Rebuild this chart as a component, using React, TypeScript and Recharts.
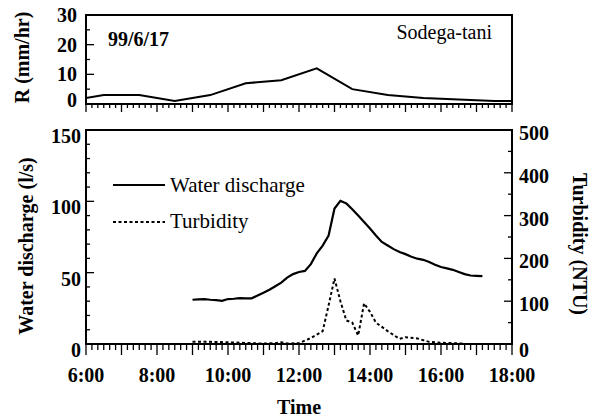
import React from "react";
import {
  LineChart,
  Line,
  XAxis,
  YAxis,
  ReferenceArea,
  Legend,
  Label,
} from "recharts";

const FONT = "'Liberation Serif', 'Times New Roman', serif";

// x axis: hours of the day
const hourTicks = [6, 7, 8, 9, 10, 11, 12, 13, 14, 15, 16, 17, 18];
const labelHours = [6, 8, 10, 12, 14, 16, 18];
const timeLabels = ["6:00", "8:00", "10:00", "12:00", "14:00", "16:00", "18:00"];

const rainTicks = [0, 5, 10, 15, 20, 25, 30];
const dischargeTicks = [0, 10, 20, 30, 40, 50, 60, 70, 80, 90, 100, 110, 120, 130, 140, 150];
const turbidityTicks = [0, 50, 100, 150, 200, 250, 300, 350, 400, 450, 500];

// rainfall, top panel
const rainTimes = ["6:00", "6:30", "7:30", "8:30", "9:30", "10:30", "11:30", "12:30", "13:30", "14:30", "15:30", "16:30", "17:30", "18:00"];
const rainValues = [2, 3, 3, 1, 3, 7, 8, 12, 5, 3, 2, 1.5, 1, 1];

// water discharge (l/s)
const dischargeTimes = [
  "9:00", "9:10", "9:20", "9:30", "9:40", "9:50", "10:00", "10:10", "10:20", "10:30",
  "10:40", "10:50", "11:00", "11:10", "11:20", "11:30", "11:40", "11:50", "12:00", "12:10",
  "12:20", "12:30", "12:40", "12:50", "13:00", "13:10", "13:20", "13:30", "13:40", "13:50",
  "14:00", "14:10", "14:20", "14:30", "14:40", "14:50", "15:00", "15:10", "15:20", "15:30",
  "15:40", "15:50", "16:00", "16:10", "16:20", "16:30", "16:40", "16:50", "17:00", "17:10",
];
const dischargeValues = [
  31, 31.3, 31.5, 31, 30.8, 30.3, 31.5, 31.7, 32.2, 32,
  32, 34, 36, 38, 40.5, 43, 46.5, 49, 50.5, 51.2,
  56, 63.5, 69, 76, 95, 100.4, 98.5, 94.5, 90, 85.5,
  81, 76, 71.5, 69, 66.5, 64.5, 63, 61.2, 59.8, 59,
  57.5, 55.5, 54, 53, 52, 50.5, 49, 48, 47.8, 47.6,
];

// turbidity (NTU)
const turbidityTimes = [
  "9:00", "9:30", "10:00", "10:20", "10:40", "11:00", "11:20", "11:30", "11:40", "12:00",
  "12:20", "12:40", "12:50", "13:00", "13:10", "13:20", "13:30", "13:40", "13:50", "14:00",
  "14:10", "14:30", "14:50", "15:00", "15:20", "15:40", "16:00", "16:20", "16:40",
];
const turbidityValues = [
  5, 5, 4, 3, 2, 1, 2, 4, 1, 2,
  14, 30, 90, 153, 100, 55, 50, 20, 95, 75,
  50, 30, 12, 16, 13, 5, 3, 2, 1,
];

const toHours = (s: string) => {
  const [h, m] = s.split(":").map(Number);
  return h + m / 60;
};

const rainData = rainTimes.map((t, i) => ({ t: toHours(t), v: rainValues[i] }));
const dischargeData = dischargeTimes.map((t, i) => ({ t: toHours(t), v: dischargeValues[i] }));
const turbidityData = turbidityTimes.map((t, i) => ({ t: toHours(t), v: turbidityValues[i] }));

// 10 minute minor ticks between the hours
const timeTicks: number[] = [];
hourTicks.forEach((h, i) => {
  timeTicks.push(h);
  if (i < hourTicks.length - 1) {
    for (let k = 1; k < 6; k++) timeTicks.push(h + k / 6);
  }
});

const isWhole = (v: number) => Math.abs(v - Math.round(v)) < 1e-6;

const TimeTick = (props: any) => {
  const { x, y, payload, big, small, showLabels } = props;
  const v = payload.value;
  const hour = isWhole(v);
  const idx = labelHours.indexOf(Math.round(v));
  return (
    <g>
      <line x1={x} x2={x} y1={y} y2={y + (hour ? big : small)} stroke="#000" strokeWidth={1.3} />
      {showLabels && hour && idx >= 0 && (
        <text
          x={x}
          y={y + 31}
          textAnchor="middle"
          dominantBaseline="central"
          fontFamily={FONT}
          fontWeight="bold"
          fontSize={20}
          fill="#000"
        >
          {timeLabels[idx]}
        </text>
      )}
    </g>
  );
};

const LeftTick = (props: any) => {
  const { x, y, payload, step, gap, dy, zeroDy } = props;
  const v = payload.value;
  const major = v % step === 0;
  return (
    <g>
      <line x1={x} x2={x + (major ? 8 : 4)} y1={y} y2={y} stroke="#000" strokeWidth={1.3} />
      {major && (
        <text
          x={x - gap}
          y={y + (v === 0 ? zeroDy : dy)}
          textAnchor="end"
          dominantBaseline="central"
          fontFamily={FONT}
          fontWeight="bold"
          fontSize={20}
          fill="#000"
        >
          {v}
        </text>
      )}
    </g>
  );
};

const RightTick = (props: any) => {
  const { x, y, payload } = props;
  const v = payload.value;
  const major = v % 100 === 0;
  return (
    <g>
      <line x1={x} x2={x - (major ? 8 : 4)} y1={y} y2={y} stroke="#000" strokeWidth={1.3} />
      {major && (
        <text
          x={x + 7}
          y={y + (v === 0 ? 6 : 3)}
          textAnchor="start"
          dominantBaseline="central"
          fontFamily={FONT}
          fontWeight="bold"
          fontSize={20}
          fill="#000"
        >
          {v}
        </text>
      )}
    </g>
  );
};

const VerticalTitle = (props: any) => {
  const { viewBox, title, offX, offY, rot } = props;
  const cx = viewBox.x + offX;
  const cy = viewBox.y + viewBox.height / 2 + offY;
  return (
    <text
      x={cx}
      y={cy}
      transform={`rotate(${rot} ${cx} ${cy})`}
      textAnchor="middle"
      dominantBaseline="central"
      fontFamily={FONT}
      fontWeight="bold"
      fontSize={20}
      fill="#000"
    >
      {title}
    </text>
  );
};

const TimeTitle = (props: any) => {
  const { viewBox } = props;
  return (
    <text
      x={viewBox.x + viewBox.width / 2}
      y={viewBox.y + 63}
      textAnchor="middle"
      dominantBaseline="central"
      fontFamily={FONT}
      fontWeight="bold"
      fontSize={20}
      fill="#000"
    >
      Time
    </text>
  );
};

const RainPanelText = (props: any) => {
  const { viewBox } = props;
  return (
    <g fontFamily={FONT} fill="#000">
      <text x={viewBox.x + 22} y={viewBox.y + 24} dominantBaseline="central" fontWeight="bold" fontSize={20}>
        99/6/17
      </text>
      <text
        x={viewBox.x + viewBox.width - 20}
        y={viewBox.y + 17}
        textAnchor="end"
        dominantBaseline="central"
        fontSize={20}
      >
        Sodega-tani
      </text>
    </g>
  );
};

const LegendBox = () => {
  const rows = [
    { name: "Water discharge", dash: undefined },
    { name: "Turbidity", dash: "3 2.5" },
  ];
  return (
    <div style={{ fontFamily: FONT, fontSize: 21, color: "#000" }}>
      {rows.map((r) => (
        <div key={r.name} style={{ display: "flex", alignItems: "center", height: 36.5 }}>
          <svg width={57} height={10}>
            <line x1={0} x2={52} y1={5} y2={5} stroke="#000" strokeWidth={2} strokeDasharray={r.dash} />
          </svg>
          <span style={{ lineHeight: 1 }}>{r.name}</span>
        </div>
      ))}
    </div>
  );
};

export default function App() {
  return (
    <div style={{ position: "absolute", left: 0, top: 0, width: 593, height: 417, background: "#fff" }}>
      <div style={{ position: "absolute", left: 0, top: 0 }}>
        <LineChart width={593} height={130} margin={{ top: 15, right: 81, bottom: 0, left: 0 }}>
          <XAxis
            dataKey="t"
            type="number"
            domain={[6, 18]}
            ticks={timeTicks}
            interval={0}
            height={26}
            axisLine={false}
            tickLine={false}
            tickSize={0}
            tickMargin={0}
            tick={<TimeTick big={8} small={4} showLabels={false} />}
            allowDataOverflow
          />
          <YAxis
            type="number"
            domain={[0, 30]}
            ticks={rainTicks}
            interval={0}
            width={86}
            axisLine={false}
            tickLine={false}
            tickSize={0}
            tickMargin={0}
            tick={<LeftTick step={10} gap={9} dy={0} zeroDy={-4} />}
          >
            <Label content={<VerticalTitle title="R (mm/hr)" offX={22} offY={-2} rot={-90} />} />
          </YAxis>
          <ReferenceArea
            x1={6}
            x2={18}
            y1={0}
            y2={30}
            fill="none"
            stroke="#000"
            strokeWidth={2}
            label={<RainPanelText />}
          />
          <Line
            data={rainData}
            dataKey="v"
            type="linear"
            stroke="#000"
            strokeWidth={2}
            dot={false}
            isAnimationActive={false}
          />
        </LineChart>
      </div>
      <div style={{ position: "absolute", left: 0, top: 120 }}>
        <LineChart width={593} height={297} margin={{ top: 10, right: 0, bottom: 0, left: 0 }}>
          <XAxis
            dataKey="t"
            type="number"
            domain={[6, 18]}
            ticks={timeTicks}
            interval={0}
            height={73}
            axisLine={false}
            tickLine={false}
            tickSize={0}
            tickMargin={0}
            tick={<TimeTick big={11} small={6} showLabels />}
            allowDataOverflow
          >
            <Label content={<TimeTitle />} />
          </XAxis>
          <YAxis
            yAxisId="left"
            type="number"
            domain={[0, 150]}
            ticks={dischargeTicks}
            interval={0}
            width={86}
            axisLine={false}
            tickLine={false}
            tickSize={0}
            tickMargin={0}
            tick={<LeftTick step={50} gap={5} dy={6} zeroDy={6} />}
          >
            <Label content={<VerticalTitle title="Water discharge (l/s)" offX={26} offY={9} rot={-90} />} />
          </YAxis>
          <YAxis
            yAxisId="right"
            orientation="right"
            type="number"
            domain={[0, 500]}
            ticks={turbidityTicks}
            interval={0}
            width={81}
            axisLine={false}
            tickLine={false}
            tickSize={0}
            tickMargin={0}
            tick={<RightTick />}
          >
            <Label content={<VerticalTitle title="Turbidity (NTU)" offX={68} offY={7} rot={90} />} />
          </YAxis>
          <ReferenceArea
            yAxisId="left"
            x1={6}
            x2={18}
            y1={0}
            y2={150}
            fill="none"
            stroke="#000"
            strokeWidth={2}
          />
          <Legend
            layout="vertical"
            align="center"
            verticalAlign="middle"
            content={<LegendBox />}
            wrapperStyle={{ left: 113, top: 47, width: "auto" }}
          />
          <Line
            yAxisId="left"
            data={dischargeData}
            dataKey="v"
            name="Water discharge"
            type="linear"
            stroke="#000"
            strokeWidth={2.2}
            dot={false}
            isAnimationActive={false}
          />
          <Line
            yAxisId="right"
            data={turbidityData}
            dataKey="v"
            name="Turbidity"
            type="linear"
            stroke="#000"
            strokeWidth={2}
            strokeDasharray="3 2.5"
            dot={false}
            isAnimationActive={false}
          />
        </LineChart>
      </div>
    </div>
  );
}
